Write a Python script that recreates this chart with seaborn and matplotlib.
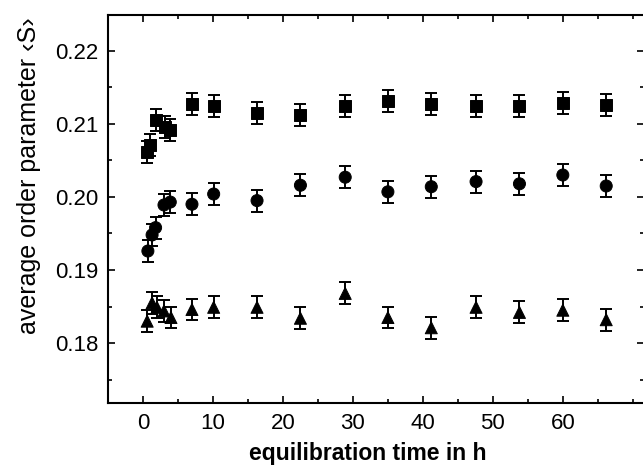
import numpy as np
import pandas as pd
import matplotlib
matplotlib.use("Agg")
import matplotlib.pyplot as plt
import seaborn as sns
from matplotlib.ticker import MultipleLocator, FormatStrFormatter

# equilibration times (h) and average order parameter per series
t_late = [7.0, 10.1, 16.3, 22.5, 28.9, 35.0, 41.2, 47.6, 53.8, 60.0, 66.2]

t_sq = [0.6, 1.0, 1.8, 3.1, 3.9] + t_late
s_sq = [0.2062, 0.2071, 0.2105, 0.2096, 0.2092,
        0.2127, 0.2124, 0.2115, 0.2112, 0.2124, 0.2131, 0.2127, 0.2125, 0.2124, 0.2129, 0.2126]

t_ci = [0.7, 1.3, 1.8, 3.0, 3.9] + t_late
s_ci = [0.1926, 0.1948, 0.1958, 0.1989, 0.1993,
        0.1990, 0.2004, 0.1995, 0.2016, 0.2027, 0.2007, 0.2014, 0.2021, 0.2018, 0.2030, 0.2015]

t_tr = [0.6, 1.3, 2.0, 3.0, 4.0] + t_late
s_tr = [0.1830, 0.1855, 0.1849, 0.1844, 0.1835,
        0.1846, 0.1849, 0.1849, 0.1834, 0.1868, 0.1835, 0.1821, 0.1849, 0.1842, 0.1845, 0.1832]

err = 0.0015
x_ticks = [0, 10, 20, 30, 40, 50, 60]

df = pd.concat([
    pd.DataFrame({"t": t_sq, "S": s_sq, "series": "sq"}),
    pd.DataFrame({"t": t_ci, "S": s_ci, "series": "ci"}),
    pd.DataFrame({"t": t_tr, "S": s_tr, "series": "tr"}),
], ignore_index=True)

sns.set_theme(style="ticks")
plt.rcParams["font.family"] = ["Liberation Sans", "DejaVu Sans"]
plt.rcParams["text.color"] = "black"
plt.rcParams["axes.labelcolor"] = "black"

fig = plt.figure(figsize=(6.43, 4.69), dpi=100)
ax = fig.add_axes([108 / 643, 1 - 403 / 469, 536 / 643, 388 / 469])

for name, g in df.groupby("series"):
    ax.errorbar(g["t"], g["S"], yerr=err, fmt="none", ecolor="black",
                elinewidth=1.4, capsize=4.3, capthick=1.4, zorder=2)

sns.scatterplot(data=df, x="t", y="S", style="series",
                markers={"sq": "s", "ci": "o", "tr": "^"},
                s=75, color="black", edgecolor="black",
                legend=False, ax=ax, zorder=3)

ax.set_xlim(-5, 71.6)
ax.set_ylim(0.1718, 0.2249)
ax.set_xticks(x_ticks)
ax.xaxis.set_minor_locator(MultipleLocator(5))
ax.yaxis.set_major_locator(MultipleLocator(0.01))
ax.yaxis.set_minor_locator(MultipleLocator(0.005))
ax.yaxis.set_major_formatter(FormatStrFormatter("%.2f"))
ax.tick_params(which="both", direction="in", top=True, right=True,
               color="black", width=1.2, labelsize=16, labelcolor="black")
ax.tick_params(which="major", length=5, pad=7)
ax.tick_params(which="minor", length=3)
for sp in ax.spines.values():
    sp.set_linewidth(1.5)
    sp.set_color("black")

ax.set_xlabel("equilibration time in h", fontsize=16.5, fontweight="bold", color="black")
ax.set_ylabel("average order parameter \u2039S\u203a", fontsize=18, color="black")
ax.xaxis.set_label_coords(0.485, -0.10)
ax.yaxis.set_label_coords(-0.125, 0.585)

fig.savefig("out.png", dpi=100)
